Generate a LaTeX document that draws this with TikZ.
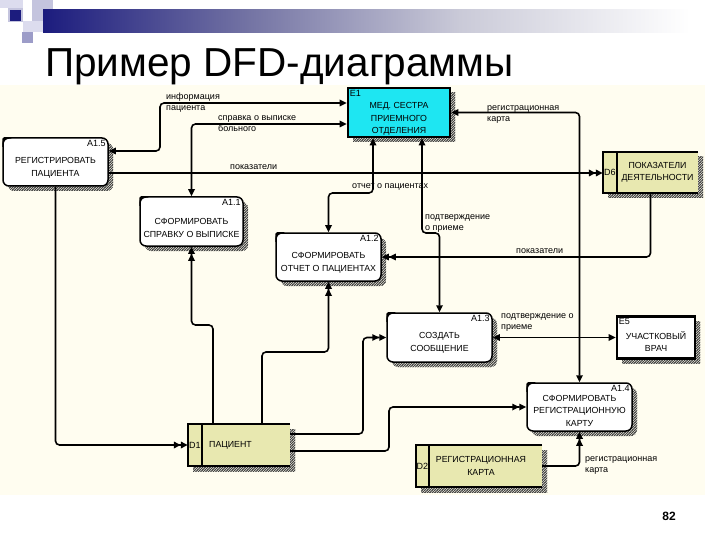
\documentclass[tikz,border=0pt]{standalone}
\usepackage{fontspec}
\setmainfont{Liberation Sans}
\usetikzlibrary{arrows.meta,patterns,shadows}
\definecolor{cream}{HTML}{FFFDF0}
\definecolor{khaki}{HTML}{E8E8B0}
\definecolor{cyanbox}{HTML}{1EE6F2}
\definecolor{navy}{HTML}{1C1C7E}
\definecolor{barmid}{HTML}{7474A4}
\definecolor{barlight}{HTML}{CACAD8}
\definecolor{sqa}{HTML}{DCDCEE}
\definecolor{sqb}{HTML}{C4C4DE}
\definecolor{sqc}{HTML}{9C9CC8}
\pgfdeclarepatternformonly{hatchp}{\pgfqpoint{-1pt}{-1pt}}{\pgfqpoint{3.5pt}{3.5pt}}{\pgfqpoint{2.5pt}{2.5pt}}{%
  \pgfsetlinewidth{0.9pt}%
  \pgfpathmoveto{\pgfqpoint{-0.5pt}{-0.5pt}}%
  \pgfpathlineto{\pgfqpoint{3pt}{3pt}}%
  \pgfusepath{stroke}}
\newcommand\tlcorner[1]{%
  \begin{scope}
    \clip (#1.north west) rectangle ++(9,9);
    \draw[line width=2.8pt,rounded corners=6pt] (#1.north west) rectangle (#1.south east);
  \end{scope}}
\begin{document}
\begin{tikzpicture}[x=1pt,y=-1pt,
  >={Triangle[length=7pt,width=6.5pt]},
  hatch/.style={general shadow={draw=none,shadow xshift=5pt,shadow yshift=-5pt,pattern=hatchp,pattern color=black!75}},
  proc/.style={draw,line width=1.5pt,rounded corners=6pt,fill=white,inner sep=0pt,hatch},
  ext/.style={draw,line width=2.6pt,inner sep=0pt,hatch},
  store/.style={fill=khaki,inner sep=0pt,hatch},
  storeline/.style={line width=1.5pt},
  boxtxt/.style={font=\fontsize{8.8}{12.5}\selectfont,align=center,inner sep=0pt},
  num/.style={font=\fontsize{9}{10}\selectfont,inner sep=0pt},
  lbl/.style={font=\fontsize{9}{11}\selectfont,align=left,inner sep=0pt,anchor=west},
  flow/.style={line width=1.6pt,rounded corners=4pt}
]
\useasboundingbox (0,0) rectangle (720,540);
% background
\fill[white] (0,0) rectangle (720,540);
\fill[cream] (0,85) rectangle (705,495);
% decoration
\fill[sqa] (0,0) rectangle (23,8);
\fill[sqb] (32,0) rectangle (53,21);
\fill[sqa] (23,21) rectangle (43,32);
\fill[sqc] (22,32) rectangle (33,43);
\fill[sqb] (8,8) rectangle (23,22);
\fill[navy] (10,10) rectangle (21,21);
\shade[left color=navy,right color=barmid] (43,10) rectangle (250,33);
\shade[left color=barmid,right color=barlight] (249.5,10) rectangle (460,33);
\shade[left color=barlight,right color=white] (459.5,10) rectangle (690,33);
% title
\node[anchor=base west,inner sep=0pt,font=\fontsize{40.5}{48}\selectfont] (title) at (45,77) {Пример DFD-диаграммы};
\node[inner sep=0pt,font=\bfseries\fontsize{12}{14}\selectfont] (pnum) at (669,516) {82};

% external entities
\node[ext,fill=cyanbox,minimum width=102,minimum height=49] (E1) at (399,112.5) {};
\node[num,anchor=north west] (E1n) at ([xshift=3pt,yshift=-3pt]E1.north west) {E1};
\node[boxtxt] (E1t) at ([yshift=-6.5pt]E1.center) {МЕД. СЕСТРА\\ПРИЕМНОГО\\ОТДЕЛЕНИЯ};

\node[ext,fill=white,minimum width=78,minimum height=42] (E5) at (656,337.5) {};
\node[num,anchor=north west] (E5n) at ([xshift=3pt,yshift=-3pt]E5.north west) {E5};
\node[boxtxt] (E5t) at ([yshift=-4pt]E5.center) {УЧАСТКОВЫЙ\\ВРАЧ};

% processes
\node[proc,minimum width=105,minimum height=48] (A15) at (55.5,162) {};
\node[num,anchor=north east] (A15n) at ([xshift=-3pt,yshift=-3pt]A15.north east) {A1.5};
\node[boxtxt] (A15t) at ([yshift=-6pt]A15.center) {РЕГИСТРИРОВАТЬ\\ПАЦИЕНТА};
\tlcorner{A15}

\node[proc,minimum width=103,minimum height=49] (A11) at (191.5,221.5) {};
\node[num,anchor=north east] (A11n) at ([xshift=-3pt,yshift=-3pt]A11.north east) {A1.1};
\node[boxtxt] (A11t) at ([yshift=-6.5pt]A11.center) {СФОРМИРОВАТЬ\\СПРАВКУ О ВЫПИСКЕ};
\tlcorner{A11}

\node[proc,minimum width=105,minimum height=48] (A12) at (328.5,257) {};
\node[num,anchor=north east] (A12n) at ([xshift=-3pt,yshift=-3pt]A12.north east) {A1.2};
\node[boxtxt] (A12t) at ([yshift=-6pt]A12.center) {СФОРМИРОВАТЬ\\ОТЧЕТ О ПАЦИЕНТАХ};
\tlcorner{A12}

\node[proc,minimum width=105,minimum height=49] (A13) at (439.5,337.5) {};
\node[num,anchor=north east] (A13n) at ([xshift=-3pt,yshift=-3pt]A13.north east) {A1.3};
\node[boxtxt] (A13t) at ([yshift=-5.5pt]A13.center) {СОЗДАТЬ\\СООБЩЕНИЕ};
\tlcorner{A13}

\node[proc,minimum width=105,minimum height=48] (A14) at (579.5,407) {};
\node[num,anchor=north east] (A14n) at ([xshift=-3pt,yshift=-3pt]A14.north east) {A1.4};
\node[boxtxt] (A14t) at ([yshift=-3.5pt]A14.center) {СФОРМИРОВАТЬ\\РЕГИСТРАЦИОННУЮ\\КАРТУ};
\tlcorner{A14}

% data stores
\node[store,minimum width=95,minimum height=41] (D6) at (650.5,172.5) {};
\draw[storeline] (D6.north east) -- (D6.north west) -- (D6.south west) -- (D6.south east);
\draw[storeline] ([xshift=14pt]D6.north west) -- ([xshift=14pt]D6.south west);
\node[num] (D6n) at ([xshift=7pt]D6.west) {D6};
\node[boxtxt] (D6t) at (657.5,172.5) {ПОКАЗАТЕЛИ\\ДЕЯТЕЛЬНОСТИ};

\node[store,minimum width=102,minimum height=42] (D1) at (239,445) {};
\draw[storeline] (D1.north east) -- (D1.north west) -- (D1.south west) -- (D1.south east);
\draw[storeline] ([xshift=14pt]D1.north west) -- ([xshift=14pt]D1.south west);
\node[num] (D1n) at ([xshift=7pt]D1.west) {D1};
\node[boxtxt,anchor=west] (D1t) at (209,445.5) {ПАЦИЕНТ};

\node[store,minimum width=126,minimum height=42] (D2) at (479,466) {};
\draw[storeline] (D2.north east) -- (D2.north west) -- (D2.south west) -- (D2.south east);
\draw[storeline] ([xshift=13pt]D2.north west) -- ([xshift=13pt]D2.south west);
\node[num] (D2n) at ([xshift=6.5pt]D2.west) {D2};
\node[boxtxt] (D2t) at (481,466) {РЕГИСТРАЦИОННАЯ\\КАРТА};

% flows
\draw[flow,<->] (A15.east |- 0,151) -- (160,151) -- (160,103) -- (E1.west |- 0,103);
\draw[flow,<->] (E1.west |- 0,124) -- (A11.north |- 0,124) -- (A11.north);
\draw[flow,->>] (A15.east |- 0,173) -- (D6.west |- 0,173);
\draw[flow,<->] (E1.south -| 373,0) -- (373,193) -- (A12.north |- 0,193) -- (A12.north);
\draw[flow,<->] (E1.south -| 422,0) -- (422,233) -- (A13.north |- 0,233) -- (A13.north);
\draw[flow,<->] (E1.east) -- (A14.north |- E1.east) -- (A14.north);
\draw[flow,->>] (D6.south) -- (D6.south |- A12.east) -- (A12.east);
\draw[flow,<->] (A13.east) -- (E5.west);
\draw[flow,->>] (A15.south) -- (A15.south |- D1.west) -- (D1.west);
\draw[flow,->>] (D1.north -| 213,0) -- (213,325) -- (A11.south |- 0,325) -- (A11.south);
\draw[flow,->>] (D1.north -| 262,0) -- (262,352) -- (A12.south |- 0,352) -- (A12.south);
\draw[flow,->>] (D1.east |- 0,434) -- (363,434) -- (363,0 |- A13.west) -- (A13.west);
\draw[flow,->>] (D1.east |- 0,451) -- (389,451) -- (389,0 |- A14.west) -- (A14.west);
\draw[flow,->>] (D2.east) -- (A14.south |- D2.east) -- (A14.south);

% labels
\node[lbl] (L1) at (166,103) {информация\\пациента};
\node[lbl] (L2) at (218,123.5) {справка о выписке\\больного};
\node[lbl] (L3) at (230,167) {показатели};
\node[lbl] (L4) at (352,187) {отчет о пациентах};
\node[lbl] (L5) at (425,224) {подтверждение\\о приеме};
\node[lbl] (L6) at (487,115) {регистрационная\\карта};
\node[lbl] (L7) at (516,251) {показатели};
\node[lbl] (L8) at (501,323) {подтверждение о\\приеме};
\node[lbl] (L9) at (585,465.5) {регистрационная\\карта};
\end{tikzpicture}
\end{document}
